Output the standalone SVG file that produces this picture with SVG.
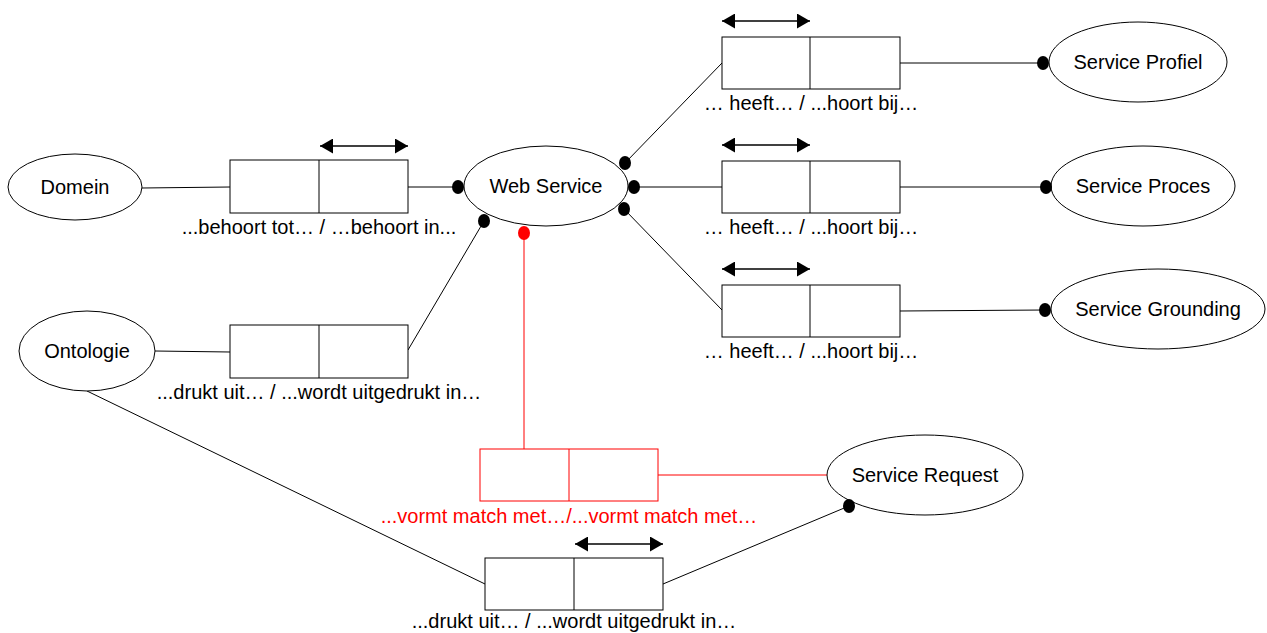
<svg xmlns="http://www.w3.org/2000/svg" width="1267" height="633" viewBox="0 0 1267 633">
  <style>
    .ell { fill: #fff; stroke: #000; stroke-width: 1; }
    .box { fill: #fff; stroke: #000; stroke-width: 1; }
    .rbox { fill: #fff; stroke: #f00; stroke-width: 1; }
    .ln { stroke: #000; stroke-width: 1; fill: none; }
    .rln { stroke: #f00; stroke-width: 1; fill: none; }
    .dot { fill: #000; }
    .rdot { fill: #f00; }
    .dbl { stroke: #000; stroke-width: 1.5; marker-start: url(#headL); marker-end: url(#headR); }
    text { font-family: "Liberation Sans", Arial, sans-serif; font-size: 20px; fill: #000; }
    .lbl { text-anchor: middle; }
    .red { fill: #f00; }
  </style>
  <defs>
    <marker id="headR" viewBox="0 0 13 15" refX="13" refY="7.5" markerWidth="13" markerHeight="15" markerUnits="userSpaceOnUse" orient="auto">
      <path d="M0,0 L13,7.5 L0,15 Z" fill="#000"/>
    </marker>
    <marker id="headL" viewBox="0 0 13 15" refX="0" refY="7.5" markerWidth="13" markerHeight="15" markerUnits="userSpaceOnUse" orient="auto">
      <path d="M13,0 L0,7.5 L13,15 Z" fill="#000"/>
    </marker>
  </defs>

  <!-- connectors -->
  <g id="connectors">
    <line class="ln" x1="142" y1="188" x2="230" y2="187"/>
    <line class="ln" x1="408" y1="187" x2="458" y2="187"/>
    <line class="ln" x1="155" y1="351" x2="230" y2="352"/>
    <line class="ln" x1="408" y1="350" x2="484" y2="221"/>
    <line class="ln" x1="625" y1="163" x2="722" y2="63"/>
    <line class="ln" x1="634" y1="187" x2="722" y2="187"/>
    <line class="ln" x1="624" y1="209" x2="722" y2="310"/>
    <line class="ln" x1="900" y1="63" x2="1043" y2="63"/>
    <line class="ln" x1="900" y1="187" x2="1046" y2="187"/>
    <line class="ln" x1="900" y1="311" x2="1045" y2="310"/>
    <line class="ln" x1="87" y1="391" x2="485" y2="584"/>
    <line class="ln" x1="663" y1="584" x2="849" y2="506"/>
    <line class="rln" x1="524" y1="233" x2="524" y2="449"/>
    <line class="rln" x1="658" y1="475" x2="827" y2="475"/>
    <!-- reading-direction arrows -->
    <line class="dbl" x1="320" y1="146" x2="408" y2="146"/>
    <line class="dbl" x1="722" y1="21" x2="810" y2="21"/>
    <line class="dbl" x1="722" y1="145" x2="810" y2="145"/>
    <line class="dbl" x1="722" y1="269" x2="810" y2="269"/>
    <line class="dbl" x1="575" y1="544" x2="663" y2="544"/>
  </g>

  <!-- object nodes -->
  <g id="domein">
    <ellipse class="ell" cx="75" cy="187" rx="67" ry="33"/>
    <text class="lbl" x="75" y="194">Domein</text>
  </g>
  <g id="ontologie">
    <ellipse class="ell" cx="87" cy="351" rx="68" ry="40"/>
    <text class="lbl" x="87" y="358">Ontologie</text>
  </g>
  <g id="web-service">
    <ellipse class="ell" cx="546" cy="186" rx="82" ry="40"/>
    <text class="lbl" x="546" y="193">Web Service</text>
  </g>
  <g id="service-profiel">
    <ellipse class="ell" cx="1138" cy="62" rx="89" ry="40"/>
    <text class="lbl" x="1138" y="69">Service Profiel</text>
  </g>
  <g id="service-proces">
    <ellipse class="ell" cx="1143" cy="186" rx="92" ry="40"/>
    <text class="lbl" x="1143" y="193">Service Proces</text>
  </g>
  <g id="service-grounding">
    <ellipse class="ell" cx="1158" cy="309" rx="107" ry="40"/>
    <text class="lbl" x="1158" y="316">Service Grounding</text>
  </g>
  <g id="service-request">
    <ellipse class="ell" cx="925" cy="475" rx="98" ry="40"/>
    <text class="lbl" x="925" y="482">Service Request</text>
  </g>

  <!-- fact types -->
  <g id="fact-behoort">
    <rect class="box" x="230" y="160" width="178" height="53"/>
    <line class="ln" x1="319" y1="160" x2="319" y2="213"/>
    <text class="lbl" x="319" y="234">...behoort tot… / …behoort in...</text>
  </g>
  <g id="fact-drukt-uit">
    <rect class="box" x="230" y="325" width="178" height="53"/>
    <line class="ln" x1="319" y1="325" x2="319" y2="378"/>
    <text class="lbl" x="319" y="399">...drukt uit… / ...wordt uitgedrukt in…</text>
  </g>
  <g id="fact-heeft-profiel">
    <rect class="box" x="722" y="37" width="178" height="52"/>
    <line class="ln" x1="810" y1="37" x2="810" y2="89"/>
    <text class="lbl" x="811" y="110">… heeft… / ...hoort bij…</text>
  </g>
  <g id="fact-heeft-proces">
    <rect class="box" x="722" y="161" width="178" height="52"/>
    <line class="ln" x1="810" y1="161" x2="810" y2="213"/>
    <text class="lbl" x="811" y="234">… heeft… / ...hoort bij…</text>
  </g>
  <g id="fact-heeft-grounding">
    <rect class="box" x="722" y="285" width="178" height="52"/>
    <line class="ln" x1="810" y1="285" x2="810" y2="337"/>
    <text class="lbl" x="811" y="358">… heeft… / ...hoort bij…</text>
  </g>
  <g id="fact-match">
    <rect class="rbox" x="480" y="449" width="178" height="52"/>
    <line class="rln" x1="569" y1="449" x2="569" y2="501"/>
    <text class="lbl red" x="569" y="523">...vormt match met…/...vormt match met…</text>
  </g>
  <g id="fact-request-drukt-uit">
    <rect class="box" x="485" y="558" width="178" height="52"/>
    <line class="ln" x1="574" y1="558" x2="574" y2="610"/>
    <text class="lbl" x="574" y="628">...drukt uit… / ...wordt uitgedrukt in…</text>
  </g>

  <!-- role end dots -->
  <g id="dots">
    <ellipse class="dot" cx="458" cy="187" rx="6" ry="7"/>
    <ellipse class="dot" cx="634" cy="187" rx="6" ry="7"/>
    <ellipse class="dot" cx="625" cy="163" rx="6" ry="7"/>
    <ellipse class="dot" cx="624" cy="209" rx="6" ry="7"/>
    <ellipse class="dot" cx="484" cy="221" rx="6" ry="7"/>
    <ellipse class="rdot" cx="524" cy="233" rx="6" ry="7"/>
    <ellipse class="dot" cx="1043" cy="63" rx="6" ry="7"/>
    <ellipse class="dot" cx="1046" cy="187" rx="6" ry="7"/>
    <ellipse class="dot" cx="1045" cy="310" rx="6" ry="7"/>
    <ellipse class="dot" cx="849" cy="506" rx="6" ry="7"/>
  </g>
</svg>
